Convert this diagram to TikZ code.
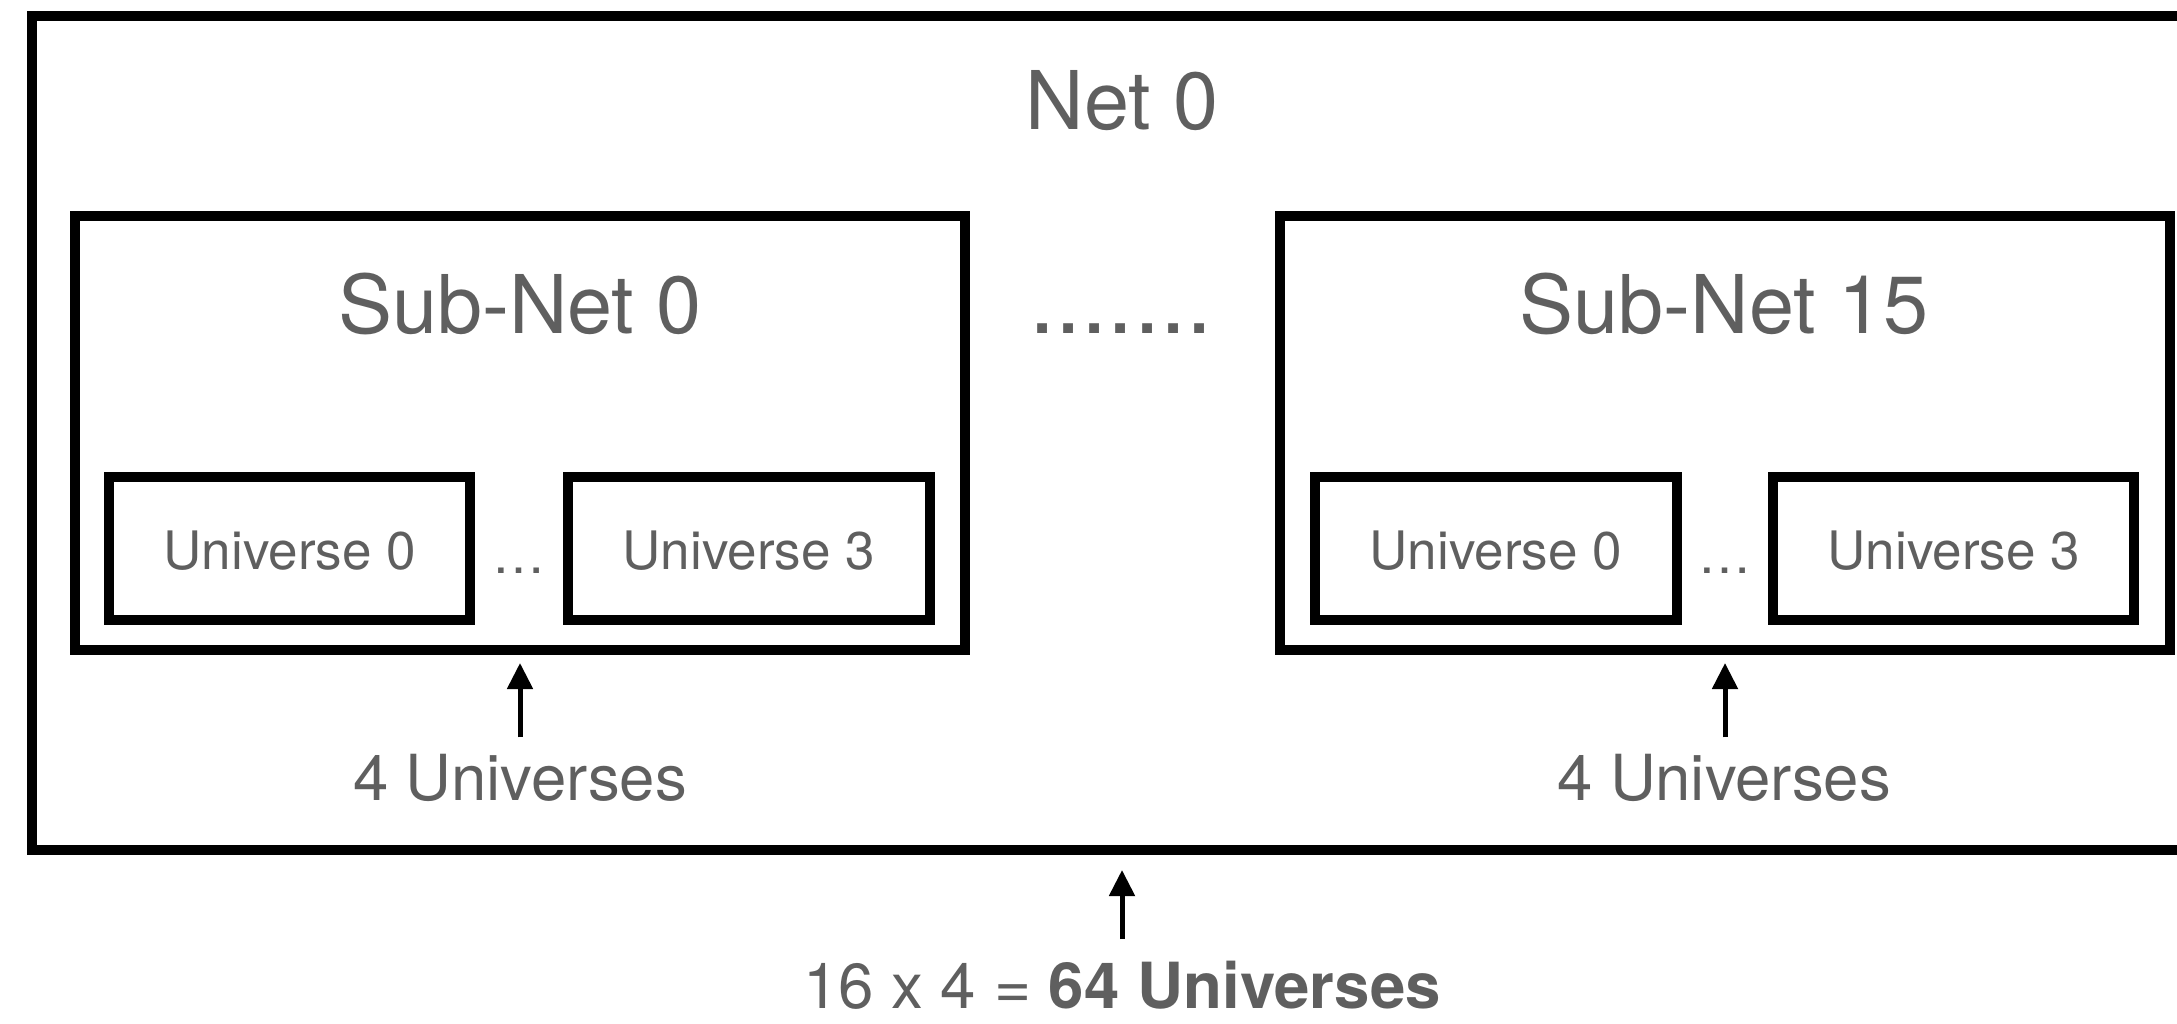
\documentclass[tikz,border=0pt]{standalone}
\usepackage{fontspec}
\setmainfont{TeX Gyre Heros}
\usetikzlibrary{arrows.meta}
\definecolor{txtgray}{HTML}{5F5F5F}
\tikzset{
  frame/.style={draw=black, line width=5pt, inner sep=0pt, outer sep=0pt, fill=none},
  bigtxt/.style={anchor=base, inner sep=0pt, text=txtgray, font=\fontsize{40.5pt}{48pt}\selectfont},
  dottxt/.style={anchor=base, inner sep=0pt, text=txtgray, font=\fontsize{47pt}{56pt}\selectfont},
  unitxt/.style={anchor=base, inner sep=0pt, text=txtgray, font=\fontsize{26.5pt}{32pt}\selectfont},
  midtxt/.style={anchor=base, inner sep=0pt, text=txtgray, font=\fontsize{31.75pt}{38pt}\selectfont},
  bottxt/.style={anchor=base, inner sep=0pt, text=txtgray, font=\fontsize{31.8pt}{38pt}\selectfont},
  arr/.style={line width=2.5pt, -{Triangle[length=13pt,width=12.5pt]}}
}
\begin{document}
\begin{tikzpicture}[x=0.5pt,y=-0.5pt]
\useasboundingbox (0,0) rectangle (2177,1023);
\clip (0,0) rectangle (2177,1023);
% outer Net box
\node[frame, minimum width=1090.5pt, minimum height=417.25pt] (net) at (1122.5,432.75) {};
\node[bigtxt] (nettxt) at (1122,129) {Net 0};
% sub-nets
\node[frame, minimum width=445pt, minimum height=217pt] (sub0) at (520,433) {};
\node[frame, minimum width=445pt, minimum height=217pt] (sub15) at (1725,433) {};
\node[bigtxt] (sub0txt) at (520,333) {Sub-Net 0};
\node[bigtxt] (sub15txt) at (1724,333) {Sub-Net 15};
\node[dottxt] (dots) at (1121,333) {.......};
% universes
\node[frame, minimum width=180.5pt, minimum height=71.5pt] (u00) at (289.5,548.5) {};
\node[frame, minimum width=181pt, minimum height=71.5pt] (u03) at (749,548.5) {};
\node[frame, minimum width=181pt, minimum height=71.5pt] (u150) at (1496,548.5) {};
\node[frame, minimum width=180.5pt, minimum height=71.5pt] (u153) at (1953.5,548.5) {};
\node[unitxt] (u00t) at (290,569) {Universe 0};
\node[unitxt] (u03t) at (749,569) {Universe 3};
\node[unitxt] (u150t) at (1496,569) {Universe 0};
\node[unitxt] (u153t) at (1954,569) {Universe 3};
\node[unitxt] (ell0) at (519,573) {…};
\node[unitxt] (ell15) at (1725,573) {…};
% labels
\node[midtxt] (lbl0) at (520,800) {4 Universes};
\node[midtxt] (lbl15) at (1724,800) {4 Universes};
\node[bottxt] (total) at (1122,1008) {16 x 4 = \textbf{64 Universes}};
% arrows
\draw[arr] ([yshift=8pt]lbl0.north -| sub0.south) -- ([yshift=-6.5pt]sub0.south);
\draw[arr] ([yshift=8pt]lbl15.north -| sub15.south) -- ([yshift=-6.5pt]sub15.south);
\draw[arr] ([yshift=10.5pt]total.north -| nettxt.south) -- ([yshift=-10pt]net.south -| nettxt.south);
\end{tikzpicture}
\end{document}
